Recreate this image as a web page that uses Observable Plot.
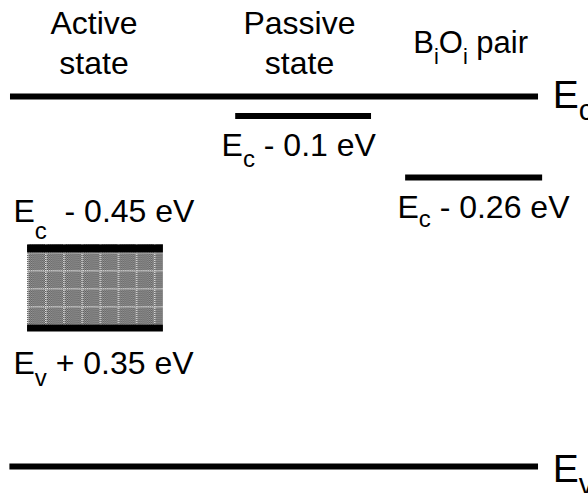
<!DOCTYPE html>
<html>
<head>
<meta charset="utf-8">
<script src="https://cdn.jsdelivr.net/npm/d3@7"></script>
<script src="https://cdn.jsdelivr.net/npm/@observablehq/plot@0.6"></script>
<style>
  html, body { margin: 0; padding: 0; background: #fff; overflow: hidden; }
  svg text, svg tspan { white-space: pre; }
</style>
</head>
<body>
<div id="chart"></div>
<script>
// ---- Data (energies in eV relative to Ec, as drawn; x in diagram units 0–100 across) ----
const levelNames  = ["Ec", "Passive state", "BiOi pair", "Ev"];
const levelEnergy = [0, -0.059, -0.245, -1.12];
const levelStart  = [1.7, 40.0, 68.9, 1.6];
const levelEnd    = [91.5, 63.1, 92.2, 91.5];

// Active state: a band between Ec - 0.45 eV and Ev + 0.35 eV (as drawn)
const bandName   = "Active state";
const bandTop    = -0.448;
const bandBottom = -0.711;
const bandStart  = 4.6;
const bandEnd    = 27.7;
const bandEdges  = [-0.460, -0.701];

// Text labels ("_x" = subscript x)
const labelText = [
  "Active\nstate", "Passive\nstate", "B_iO_i pair",
  "E_c", "E_v",
  "E_c - 0.1 eV", "E_c - 0.26 eV", "E_c  - 0.45 eV", "E_v + 0.35 eV"
];
const labelX = [15.9, 50.85, 70.2, 93.9, 93.9, 37.6, 67.5, 2.2, 2.2];
const labelE = [0.0666, 0.0666, 0.1302, -0.0363, -1.1684, -0.1786, -0.3663, -0.3784, -0.8385];

// ---- Styles ----
const FONT = "Liberation Sans, Arial, Helvetica, sans-serif";
const subShift = {"E_c - 0.1 eV": 11, "E_c - 0.26 eV": 9, "E_c  - 0.45 eV": 17, "E_v + 0.35 eV": 12,
                  "B_iO_i pair": 11, "E_c": 12, "E_v": 12};
const subSize = {"B_iO_i pair": "0.7em"};

const levels = levelNames.map((n, i) => ({name: n, e: levelEnergy[i], x1: levelStart[i], x2: levelEnd[i]}));
const band = [{name: bandName, x1: bandStart, x2: bandEnd, y1: bandTop, y2: bandBottom}];
const edges = bandEdges.map((e, i) => ({e, x1: bandStart, x2: bandEnd, w: i === 0 ? 8 : 7}));
const labels = labelText.map((t, i) => ({text: t, x: labelX[i], e: labelE[i]}));

const headers = labels.slice(0, 2);
const bioi = labels.slice(2, 3);
const edgesLbl = labels.slice(3, 5);
const levelLbl = labels.slice(5);

const svg = Plot.plot({
  width: 588,
  height: 493,
  margin: 0,
  style: {background: "white", fontFamily: FONT},
  x: {domain: [0, 100], range: [0, 588], axis: null},
  y: {domain: [0, -1.12], range: [96, 466], axis: null},
  marks: [
    Plot.rect(band, {x1: "x1", x2: "x2", y1: "y1", y2: "y2", fill: "url(#bandfill)"}),
    Plot.ruleY(edges, {y: "e", x1: "x1", x2: "x2", stroke: "black", strokeWidth: d => d.w}),
    Plot.ruleY(levels, {y: "e", x1: "x1", x2: "x2", stroke: "black", strokeWidth: 6}),
    Plot.text(headers, {x: "x", y: "e", text: "text", textAnchor: "middle", lineAnchor: "bottom",
      lineHeight: 1.25, fontSize: 32, fontFamily: FONT, fill: "black"}),
    Plot.text(bioi, {x: "x", y: "e", text: "text", textAnchor: "start", lineAnchor: "bottom",
      fontSize: 31, fontFamily: FONT, fill: "black"}),
    Plot.text(edgesLbl, {x: "x", y: "e", text: "text", textAnchor: "start", lineAnchor: "bottom",
      fontSize: 39, fontFamily: FONT, fill: "black"}),
    Plot.text(levelLbl, {x: "x", y: "e", text: "text", textAnchor: "start", lineAnchor: "bottom",
      fontSize: 32, fontFamily: FONT, fill: "black"})
  ]
});

// Pattern for the active-state band (dotted gray with a light grid)
d3.select(svg).insert("defs", ":first-child").html(`
  <pattern id="banddots" width="2" height="2" patternUnits="userSpaceOnUse">
    <rect width="2" height="2" fill="#555555"/>
    <rect width="1" height="1" fill="#a6a6a6"/>
    <rect x="1" y="1" width="1" height="1" fill="#a6a6a6"/>
  </pattern>
  <pattern id="bandfill" x="27" y="252" width="18.1" height="18" patternUnits="userSpaceOnUse">
    <rect width="18.1" height="18" fill="url(#banddots)"/>
    <path d="M0 0.75H18.1M0.75 0V18" stroke="#e8e8e8" stroke-width="1.5" stroke-dasharray="1 1"/>
  </pattern>
`);

// Subscripts
const NS = "http://www.w3.org/2000/svg";
svg.querySelectorAll("text").forEach(el => {
  if (el.querySelector("tspan")) return;
  const s = el.textContent;
  if (!s.includes("_")) return;
  const shift = subShift[s] ?? 10;
  const size = subSize[s] ?? "0.75em";
  el.textContent = "";
  const parts = s.split(/_(.)/);
  parts.forEach((p, i) => {
    if (p === "") return;
    const t = document.createElementNS(NS, "tspan");
    t.textContent = p;
    if (i % 2 === 1) {
      t.setAttribute("font-size", size);
      t.setAttribute("dy", shift);
    } else if (i > 0) {
      t.setAttribute("dy", -shift);
    }
    el.appendChild(t);
  });
});

document.getElementById("chart").appendChild(svg);
</script>
</body>
</html>
